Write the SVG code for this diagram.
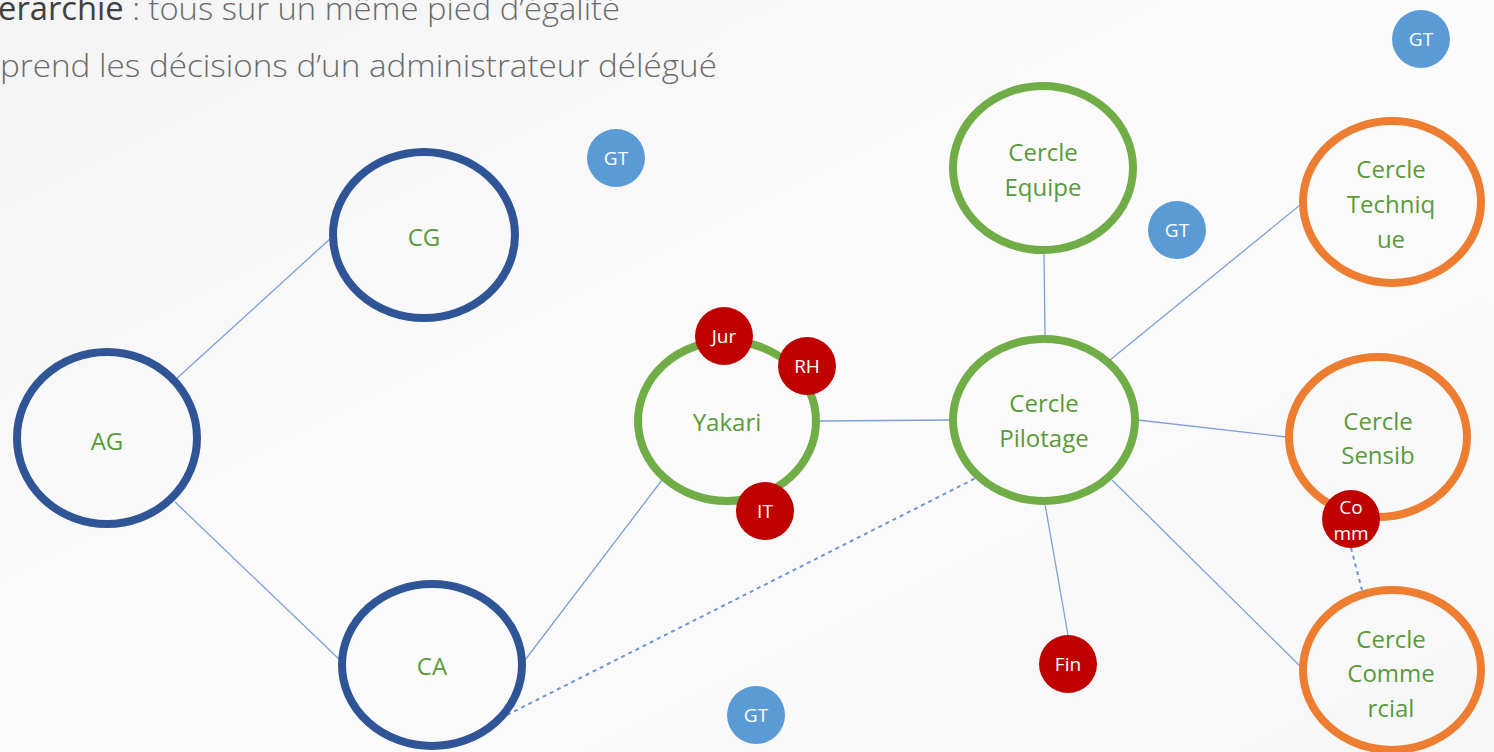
<svg xmlns="http://www.w3.org/2000/svg" width="1494" height="752" viewBox="0 0 1494 752">
<defs>
<linearGradient id="bg" x1="0" y1="0" x2="1" y2="1">
<stop offset="0" stop-color="#f4f4f4"/>
<stop offset="0.5" stop-color="#fbfbfb"/>
<stop offset="1" stop-color="#f7f7f7"/>
</linearGradient>
</defs>
<style>
.blue{fill:none;stroke:#2f5597;stroke-width:8}
.green{fill:none;stroke:#70ad47;stroke-width:8}
.orange{fill:none;stroke:#ed7d31;stroke-width:8}
.lbl{font-family:"Open Sans","Liberation Sans",sans-serif;font-size:24px;fill:#5a9a3a;text-anchor:middle;dominant-baseline:central}
.red{fill:#c00000}
.gt{fill:#5b9bd5}
.sm{font-family:"Open Sans","Liberation Sans",sans-serif;font-size:19px;fill:#fff;text-anchor:middle;dominant-baseline:central}
.ln{stroke:#7f9fd9;stroke-width:1.3;fill:none}
.dash{stroke:#6f93d6;stroke-width:2;fill:none;stroke-dasharray:4 4}
.hdr{font-family:"Open Sans","Liberation Sans",sans-serif;font-size:32px;fill:#6b6b6b;font-weight:300}
</style>
<rect width="1494" height="752" fill="url(#bg)"/>
<g id="header">
<text class="hdr" x="-2" y="20" textLength="622" lengthAdjust="spacingAndGlyphs"><tspan fill="#404040" font-weight="400">erarchie</tspan> : tous sur un même pied d’égalité</text>
<text class="hdr" x="0" y="77" textLength="717" lengthAdjust="spacingAndGlyphs">prend les décisions d’un administrateur délégué</text>
</g>
<g id="connectors">
<line class="ln" x1="331" y1="238" x2="175" y2="380"/>
<line class="ln" x1="175" y1="502" x2="340" y2="660"/>
<line class="ln" x1="525" y1="660" x2="662" y2="480"/>
<line class="ln" x1="820" y1="421" x2="950" y2="420"/>
<line class="dash" x1="507" y1="715" x2="978" y2="477"/>
<line class="ln" x1="1044" y1="253" x2="1045" y2="336"/>
<line class="ln" x1="1110" y1="360" x2="1300" y2="205"/>
<line class="ln" x1="1138" y1="420" x2="1286" y2="437"/>
<line class="ln" x1="1045" y1="504" x2="1068" y2="635"/>
<line class="ln" x1="1112" y1="480" x2="1302" y2="668"/>
<line class="dash" x1="1351" y1="548" x2="1362" y2="590"/>
</g>
<g id="AG"><ellipse class="blue" cx="107" cy="438" rx="90" ry="86"/><text class="lbl" x="107" y="440">AG</text></g>
<g id="CG"><ellipse class="blue" cx="424" cy="235" rx="91" ry="83"/><text class="lbl" x="424" y="236">CG</text></g>
<g id="CA"><ellipse class="blue" cx="432" cy="665" rx="90" ry="81"/><text class="lbl" x="432" y="665">CA</text></g>
<g id="Yakari"><ellipse class="green" cx="727" cy="421" rx="89" ry="80"/><text class="lbl" x="727" y="421">Yakari</text></g>
<g id="Pilotage"><ellipse class="green" cx="1044" cy="420" rx="91" ry="81"/><text class="lbl" x="1044" y="402">Cercle</text><text class="lbl" x="1044" y="437">Pilotage</text></g>
<g id="Equipe"><ellipse class="green" cx="1043" cy="168" rx="90" ry="82"/><text class="lbl" x="1043" y="151">Cercle</text><text class="lbl" x="1043" y="186">Equipe</text></g>
<g id="Technique"><ellipse class="orange" cx="1392" cy="202" rx="89" ry="81"/><text class="lbl" x="1391" y="168">Cercle</text><text class="lbl" x="1391" y="203">Techniq</text><text class="lbl" x="1391" y="238">ue</text></g>
<g id="Sensib"><ellipse class="orange" cx="1378" cy="437" rx="89" ry="80"/><text class="lbl" x="1378" y="420">Cercle</text><text class="lbl" x="1378" y="454">Sensib</text></g>
<g id="Commercial"><ellipse class="orange" cx="1392" cy="670" rx="89" ry="80"/><text class="lbl" x="1391" y="638">Cercle</text><text class="lbl" x="1391" y="672">Comme</text><text class="lbl" x="1391" y="707">rcial</text></g>
<g id="Jur"><circle class="red" cx="724" cy="336" r="29"/><text class="sm" x="724" y="336">Jur</text></g>
<g id="RH"><circle class="red" cx="807" cy="366" r="29"/><text class="sm" x="807" y="366">RH</text></g>
<g id="IT"><circle class="red" cx="765" cy="511" r="29"/><text class="sm" x="765" y="511">IT</text></g>
<g id="Fin"><circle class="red" cx="1068" cy="664" r="29"/><text class="sm" x="1068" y="664">Fin</text></g>
<g id="Comm"><circle class="red" cx="1351" cy="519" r="29"/><text class="sm" x="1351" y="507">Co</text><text class="sm" x="1351" y="533">mm</text></g>
<g id="GT1"><circle class="gt" cx="1421" cy="39" r="29"/><text class="sm" x="1421" y="39">GT</text></g>
<g id="GT2"><circle class="gt" cx="616" cy="158" r="29"/><text class="sm" x="616" y="158">GT</text></g>
<g id="GT3"><circle class="gt" cx="1177" cy="230" r="29"/><text class="sm" x="1177" y="230">GT</text></g>
<g id="GT4"><circle class="gt" cx="756" cy="715" r="29"/><text class="sm" x="756" y="715">GT</text></g>
</svg>
